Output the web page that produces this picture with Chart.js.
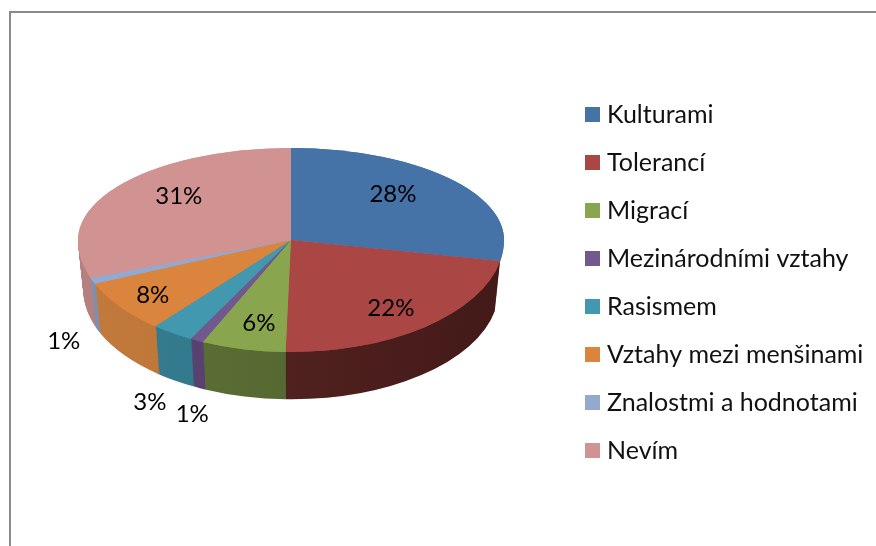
<!DOCTYPE html>
<html><head><meta charset="utf-8">
<style>
html,body{margin:0;padding:0;background:#fff;overflow:hidden}
#wrap{position:relative;width:876px;height:546px}
#frame{position:absolute;left:9px;top:11px;right:0;bottom:0;border-left:2px solid #8a8a8a;border-top:2px solid #8a8a8a}
canvas{position:absolute;left:0;top:0}
</style>
<script src="https://cdn.jsdelivr.net/npm/chart.js@4/dist/chart.umd.min.js"></script>
</head><body>
<div id="wrap"><div id="frame"></div><canvas id="c" width="876" height="546"></canvas></div>
<script>
const categories = ["Kulturami","Tolerancí","Migrací","Mezinárodními vztahy","Rasismem","Vztahy mezi menšinami","Znalostmi a hodnotami","Nevím"];
const shareValues = [28, 22.4, 6.4, 1, 3.2, 7.6, 0.9, 30.5];
const faceColors = ["#4572A7","#AA4643","#89A54E","#71588F","#4198AF","#DB843D","#93A9CF","#D19392"];
const wallColorsLeft = [null,"#5c2725","#5e7236","#5a4272","#357d90","#c27a3c","#7d90b0","#b58080"];
const wallColorsRight = [null,"#431a18","#4e5f2e","#543d6a","#2f7085","#b06c30","#7488a8","#b07c7c"];
const labelRadius = [0.621,0.747,0.674,1.047,1.19,0.81,1.146,0.644];
const labelDrop = [-9.6,3,9.6,69,52,1,54,-9.8];

const FONT = "Lato, Carlito, sans-serif";
const UP = 92/213, DOWN = 112/213, DEPTH = 50, SHRINK = 0.025;

const pie3d = {
  id:"pie3d",
  afterLayout(chart){
    const a = chart.chartArea;
    a.left=78; a.right=504; a.top=27; a.bottom=453; a.width=426; a.height=426;
    const l = chart.legend, h = l.height;
    l.left = 585 + 5.5 - l.options.labels.padding; l.right = l.left + l.width;
    l.top = 79; l.bottom = l.top + h;
  },
  beforeDatasetDraw(chart,args){
    const ctx = chart.ctx, arcs = args.meta.data, cx = arcs[0].x, cy = arcs[0].y;
    const wall = arcs.map((_,i)=>{
      if(!wallColorsLeft[i]) return null;
      const g = ctx.createLinearGradient(80,0,500,0);
      g.addColorStop(0,wallColorsLeft[i]); g.addColorStop(1,wallColorsRight[i]);
      return g;
    });
    const half = (off,s,ky,top,draw)=>{
      ctx.save();
      ctx.beginPath();
      if(top) ctx.rect(0,0,chart.width,cy); else ctx.rect(0,cy+off,chart.width,chart.height);
      ctx.clip();
      ctx.translate(cx,cy+off); ctx.scale(s,ky*s); ctx.translate(-cx,-cy);
      draw(); ctx.restore();
    };
    for(let d=DEPTH;d>=1;d--){
      const t=d/DEPTH, s=1-SHRINK*t;
      half(d,s,DOWN,false,()=>arcs.forEach((el,i)=>{
        if(!wall[i]) return;
        const o=el.options, old=o.backgroundColor;
        o.backgroundColor=wall[i]; el.draw(ctx); o.backgroundColor=old;
      }));
    }
    for(let n=0;n<2;n++){
      half(0,1,UP,true,()=>arcs.forEach(el=>el.draw(ctx)));
      half(0,1,DOWN,false,()=>arcs.forEach(el=>el.draw(ctx)));
    }
    return false;
  },
  afterDatasetsDraw(chart){
    const ctx=chart.ctx, arcs=chart.getDatasetMeta(0).data;
    ctx.save();
    ctx.fillStyle="#000"; ctx.font="24px "+FONT; ctx.textAlign="center"; ctx.textBaseline="middle";
    arcs.forEach((el,i)=>{
      const a=(el.startAngle+el.endAngle)/2, r=el.outerRadius*labelRadius[i];
      const dy=Math.sin(a)*r;
      ctx.fillText(Math.round(shareValues[i])+"%", el.x+Math.cos(a)*r, el.y+dy*(dy<0?UP:DOWN)+labelDrop[i]);
    });
    ctx.restore();
  }
};

new Chart(document.getElementById("c"),{
  type:"pie",
  data:{labels:categories,datasets:[{data:shareValues,backgroundColor:faceColors,borderWidth:0}]},
  options:{
    responsive:false,animation:false,
    layout:{padding:0},
    plugins:{
      tooltip:{enabled:false},
      legend:{position:"right",align:"start",
        labels:{usePointStyle:true,pointStyle:"rect",boxWidth:4,boxHeight:15,padding:23,color:"#111",font:{family:FONT,size:25}}}
    }
  },
  plugins:[pie3d]
});
</script>
</body></html>
